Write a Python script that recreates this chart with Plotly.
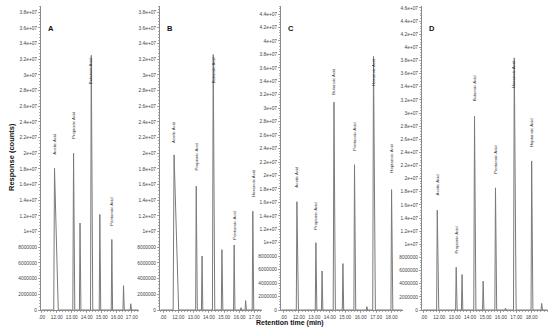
import plotly.graph_objects as go

# ---------------- data ----------------
# Panel A
times_A = [11.85, 13.12, 13.55, 14.30, 14.87, 15.67, 16.45, 16.93]
heights_A = [18.1e6, 20.0e6, 11.1e6, 32.5e6, 12.2e6, 9.0e6, 3.1e6, 0.8e6]
names_A = ["Acetic Acid", "Propionic Acid", None, "Butanoic Acid", None, "Pentanoic Acid", None, None]

# Panel B
times_B = [11.72, 13.17, 13.55, 14.28, 14.85, 15.65, 16.10, 16.40, 16.87]
heights_B = [19.8e6, 15.8e6, 6.9e6, 32.6e6, 7.7e6, 8.3e6, 0.3e6, 1.2e6, 12.6e6]
names_B = ["Acetic Acid", "Propionic Acid", None, "Butanoic Acid", None, "Pentanoic Acid", None, None, "Hexanoic Acid"]

# Panel C
times_C = [11.87, 13.10, 13.50, 14.27, 14.85, 15.60, 16.40, 16.83, 18.00]
heights_C = [16.1e6, 10.0e6, 5.8e6, 30.9e6, 6.9e6, 21.6e6, 0.5e6, 37.7e6, 17.9e6]
names_C = ["Acetic Acid", "Propionic Acid", None, "Butanoic Acid", None, "Pentanoic Acid", None, "Hexanoic Acid", "Heptanoic Acid"]

# Panel D
times_D = [11.87, 13.10, 13.48, 14.29, 14.85, 15.65, 16.30, 16.87, 18.00, 18.65]
heights_D = [15.2e6, 6.5e6, 5.4e6, 29.5e6, 4.4e6, 18.6e6, 0.3e6, 38.4e6, 22.7e6, 1.0e6]
names_D = ["Acetic Acid", "Propionic Acid", None, "Butanoic Acid", None, "Pentanoic Acid", None, "Hexanoic Acid", "Heptanoic Acid", None]

# peak widths (min): rise and fall
rise_A = [0.05, 0.05, 0.04, 0.05, 0.04, 0.04, 0.04, 0.04]
fall_A = [0.25, 0.08, 0.06, 0.10, 0.06, 0.05, 0.05, 0.05]
rise_B = [0.06, 0.04, 0.04, 0.05, 0.04, 0.04, 0.04, 0.04, 0.04]
fall_B = [0.30, 0.07, 0.05, 0.10, 0.06, 0.05, 0.05, 0.05, 0.06]
rise_C = [0.04, 0.04, 0.04, 0.05, 0.04, 0.04, 0.04, 0.05, 0.04]
fall_C = [0.10, 0.06, 0.05, 0.09, 0.05, 0.08, 0.05, 0.12, 0.08]
rise_D = [0.04, 0.04, 0.04, 0.05, 0.04, 0.04, 0.04, 0.05, 0.04, 0.04]
fall_D = [0.10, 0.06, 0.05, 0.09, 0.05, 0.08, 0.05, 0.12, 0.08, 0.05]

# label offsets in pixels (positive: gap above apex; None: hangs down from apex)
lab_gap_A = [11, 12, None, None, None, 12, None, None]
lab_gap_B = [10, 14, None, None, None, 3, None, None, 12]
lab_gap_C = [12, 11, None, 6, None, 12, None, None, 15]
lab_gap_D = [13, 12, None, 13, None, 12, None, None, 12, None]

# axis ticks
xticks_AB = [11, 12, 13, 14, 15, 16, 17]
xticks_CD = [11, 12, 13, 14, 15, 16, 17, 18]
xtick_text_AB = [".00", "12.00", "13.00", "14.00", "15.00", "16.00", "17.00"]
xtick_text_CD = [".00", "12.00", "13.00", "14.00", "15.00", "16.00", "17.00", "18.00"]

yticks_38 = [0, 2e6, 4e6, 6e6, 8e6, 1e7, 1.2e7, 1.4e7, 1.6e7, 1.8e7, 2e7, 2.2e7, 2.4e7,
             2.6e7, 2.8e7, 3e7, 3.2e7, 3.4e7, 3.6e7, 3.8e7]
ytext_38 = ["0", "2000000", "4000000", "6000000", "8000000", "1e+07", "1.2e+07", "1.4e+07",
            "1.6e+07", "1.8e+07", "2e+07", "2.2e+07", "2.4e+07", "2.6e+07", "2.8e+07", "3e+07",
            "3.2e+07", "3.4e+07", "3.6e+07", "3.8e+07"]
yticks_44 = yticks_38 + [4e7, 4.2e7, 4.4e7]
ytext_44 = ytext_38 + ["4e+07", "4.2e+07", "4.4e+07"]
yticks_46 = yticks_44 + [4.6e7]
ytext_46 = ytext_44 + ["4.6e+07"]

panel_letters = ["A", "B", "C", "D"]

# ---------------- layout geometry ----------------
W, H = 550, 334
x_px = [(41, 139), (160, 262), (281, 403), (422, 548)]
x_ranges = [(10.95, 17.48), (10.80, 17.47), (10.84, 18.74), (10.88, 19.06)]
y_ranges = [(0, 3.88e7), (0, 3.88e7), (0, 4.52e7), (0, 4.63e7)]
y_dom = ((H - 310) / H, (H - 6) / H)

FONT = "Liberation Sans"
LINE = "#7a7a7a"
AX = "#8a8a8a"
TXT = "#444444"

panels = [
    (times_A, heights_A, names_A, rise_A, fall_A, lab_gap_A, xticks_AB, xtick_text_AB, yticks_38, ytext_38),
    (times_B, heights_B, names_B, rise_B, fall_B, lab_gap_B, xticks_AB, xtick_text_AB, yticks_38, ytext_38),
    (times_C, heights_C, names_C, rise_C, fall_C, lab_gap_C, xticks_CD, xtick_text_CD, yticks_44, ytext_44),
    (times_D, heights_D, names_D, rise_D, fall_D, lab_gap_D, xticks_CD, xtick_text_CD, yticks_46, ytext_46),
]

fig = go.Figure()
annotations = []
layout = {}

for i, (t, h, nm, rs, fl, gaps, xtv, xtt, ytv, ytt) in enumerate(panels):
    sfx = "" if i == 0 else str(i + 1)
    xs = [x_ranges[i][0] + 0.05]
    ys = [0]
    for tt, hh, r, f in zip(t, h, rs, fl):
        xs += [tt - r, tt, tt + f]
        ys += [0, hh, 0]
    xs.append(x_ranges[i][1] - 0.05)
    ys.append(0)
    fig.add_trace(go.Scatter(x=xs, y=ys, mode="lines",
                             line=dict(color=LINE, width=1),
                             xaxis="x" + sfx, yaxis="y" + sfx,
                             showlegend=False, hoverinfo="skip"))
    common = dict(showgrid=False, zeroline=False, showline=True, linecolor=AX, linewidth=1,
                  ticks="outside", ticklen=2, tickwidth=0.7, tickcolor=AX, automargin=False,
                  tickfont=dict(family=FONT, size=4.8, color=TXT))
    layout["xaxis" + sfx] = dict(
        domain=[x_px[i][0] / W, x_px[i][1] / W], range=list(x_ranges[i]),
        anchor="y" + sfx, tickvals=xtv, ticktext=xtt,
        minor=dict(dtick=0.2, ticklen=1, tickcolor=AX, ticks="outside"),
        **common)
    layout["yaxis" + sfx] = dict(
        domain=list(y_dom), range=list(y_ranges[i]), anchor="x" + sfx,
        tickvals=ytv, ticktext=ytt,
        minor=dict(dtick=4e5, ticklen=1, tickcolor=AX, ticks="outside"),
        **common)
    # compound labels
    for tt, hh, n, g in zip(t, h, nm, gaps):
        if n is None:
            continue
        if g is None:
            annotations.append(dict(x=tt, y=hh, xref="x" + sfx, yref="y" + sfx, text=n,
                                    textangle=-90, showarrow=False, xanchor="center",
                                    yanchor="top", font=dict(family=FONT, size=4.3, color="#333")))
        else:
            annotations.append(dict(x=tt, y=hh, xref="x" + sfx, yref="y" + sfx, text=n,
                                    textangle=-90, showarrow=False, xanchor="center",
                                    yanchor="bottom", yshift=g,
                                    font=dict(family=FONT, size=4.3, color="#333")))
    # panel letter
    annotations.append(dict(x=(x_px[i][0] + 5) / W, y=(H - 28) / H, xref="paper", yref="paper",
                            text="<b>%s</b>" % panel_letters[i], showarrow=False,
                            xanchor="left", yanchor="middle",
                            font=dict(family=FONT, size=7.5, color="#111")))

annotations.append(dict(x=11 / W, y=(H - 157) / H, xref="paper", yref="paper",
                        text="<b>Response (counts)</b>", textangle=-90, showarrow=False,
                        xanchor="center", yanchor="middle",
                        font=dict(family=FONT, size=7.5, color="#111")))
annotations.append(dict(x=290 / W, y=(H - 323) / H, xref="paper", yref="paper",
                        text="<b>Retention time (min)</b>", showarrow=False,
                        xanchor="center", yanchor="middle",
                        font=dict(family=FONT, size=7, color="#111")))

fig.update_layout(width=W, height=H, margin=dict(l=0, r=0, t=0, b=0),
                  paper_bgcolor="white", plot_bgcolor="white", hovermode=False,
                  annotations=annotations, **layout)

fig.write_html("out.html", config={"displayModeBar": False, "staticPlot": True},
               post_script="document.body.style.margin='0';document.body.style.padding='0';")
